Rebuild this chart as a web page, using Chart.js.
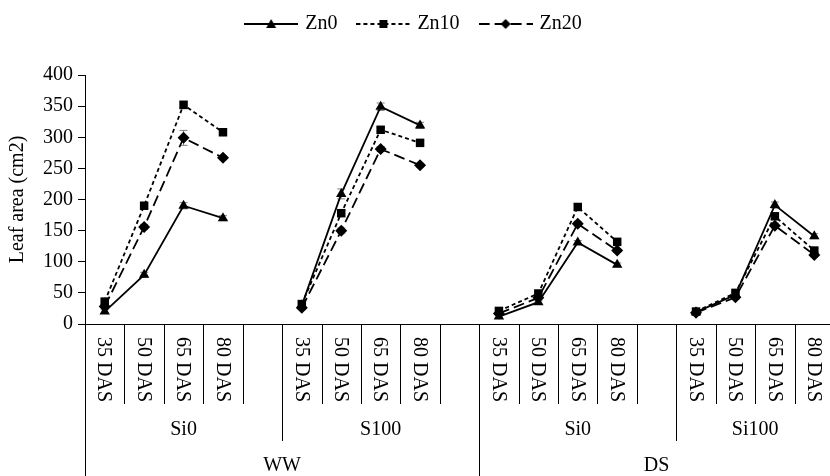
<!DOCTYPE html>
<html>
<head>
<meta charset="utf-8">
<script src="https://cdn.jsdelivr.net/npm/chart.js@4/dist/chart.umd.min.js"></script>
<style>
  html, body { margin: 0; padding: 0; background: #fff; overflow: hidden; }
  #wrap { width: 840px; height: 476px; }
</style>
</head>
<body>
<div id="wrap"><canvas id="chart"></canvas></div>
<script>
// categories (blank entries are the gaps between groups)
const cats = ['35 DAS', '50 DAS', '65 DAS', '80 DAS', '',
              '35 DAS', '50 DAS', '65 DAS', '80 DAS', '',
              '35 DAS', '50 DAS', '65 DAS', '80 DAS', '',
              '35 DAS', '50 DAS', '65 DAS', '80 DAS'];
const subGroups = ['Si0', 'S100', 'Si0', 'Si100'];
const subStart = [0, 5, 10, 15];
const mainGroups = ['WW', 'DS'];
const mainStart = [0, 10];

// leaf area values (cm2)
const zn0  = [20, 79, 190, 170, null, 30, 209, 349, 319, null, 12, 35, 131, 95, null, 19, 47, 191, 141];
const zn10 = [36, 190, 352, 308, null, 32, 178, 312, 291, null, 21, 49, 188, 132, null, 20, 50, 173, 118];
const zn20 = [28, 156, 299, 267, null, 26, 150, 281, 255, null, 17, 42, 161, 118, null, 18, 43, 158, 111];

// error bars
const err0  = [3, 4, 5, 4, null, 4, 8, 6, 5, null, 2, 2, 3, 3, null, 2, 3, 5, 4];
const err10 = [3, 4, 6, 3, null, 3, 4, 4, 3, null, 2, 3, 4, 3, null, 2, 3, 5, 3];
const err20 = [3, 4, 12, 3, null, 3, 4, 4, 3, null, 2, 3, 4, 3, null, 2, 3, 4, 3];

const yTicks = [0, 50, 100, 150, 200, 250, 300, 350, 400];

const serif = '"Liberation Serif", "Times New Roman", serif';
Chart.defaults.font.family = serif;
Chart.defaults.font.size = 20;
Chart.defaults.color = '#000';

// legend swatch: line sample with marker in the middle
function swatch(dash, marker) {
  const c = document.createElement('canvas');
  c.width = 54; c.height = 14;
  const g = c.getContext('2d');
  g.strokeStyle = '#000';
  g.lineWidth = 2;
  g.setLineDash(dash);
  g.beginPath(); g.moveTo(0, 7); g.lineTo(54, 7); g.stroke();
  g.fillStyle = '#000';
  g.beginPath();
  if (marker === 'triangle') {
    g.moveTo(27, 2); g.lineTo(32, 11); g.lineTo(22, 11);
  } else if (marker === 'rect') {
    g.rect(23, 3, 8, 8);
  } else {
    g.moveTo(27, 2); g.lineTo(32, 7); g.lineTo(27, 12); g.lineTo(22, 7);
  }
  g.fill();
  return c;
}

const series = [
  {label: 'Zn0', data: zn0, err: err0, dash: [], style: 'triangle'},
  {label: 'Zn10', data: zn10, err: err10, dash: [4, 3], style: 'rect'},
  {label: 'Zn20', data: zn20, err: err20, dash: [11, 5], style: 'rectRot'}
];

const errorBars = {
  id: 'errorBars',
  beforeDatasetsDraw(chart) {
    const {ctx, scales: {x, y}} = chart;
    ctx.save();
    ctx.strokeStyle = '#808080';
    ctx.lineWidth = 1;
    series.forEach((s, i) => {
      s.data.forEach((v, j) => {
        const e = s.err[j];
        if (v === null || !e) return;
        const px = x.getPixelForValue(j);
        const top = y.getPixelForValue(v + e), bot = y.getPixelForValue(v - e);
        ctx.beginPath();
        ctx.moveTo(px, top); ctx.lineTo(px, bot);
        ctx.moveTo(px - 4, top); ctx.lineTo(px + 4, top);
        ctx.moveTo(px - 4, bot); ctx.lineTo(px + 4, bot);
        ctx.stroke();
      });
    });
    ctx.restore();
  }
};

// extra room between legend and plot
const legendGap = {
  id: 'legendGap',
  afterInit(chart) {
    const fit = chart.legend.fit;
    chart.legend.fit = function () { fit.call(this); this.height += 31; };
  }
};

// multi level category axis below the plot
const tiers = {
  id: 'tiers',
  afterDraw(chart) {
    const {ctx, scales: {x}} = chart;
    const base = chart.chartArea.bottom;
    const w = (x.right - x.left) / cats.length;
    ctx.save();
    ctx.strokeStyle = '#000';
    ctx.lineWidth = 1;
    for (let k = 0; k <= cats.length; k++) {
      const xx = Math.round(x.left + k * w) + 0.5;
      let len = 80;
      if (mainStart.includes(k)) len = chart.height - base;
      else if (subStart.includes(k)) len = 117;
      ctx.beginPath(); ctx.moveTo(xx, base); ctx.lineTo(xx, base + len); ctx.stroke();
    }
    ctx.fillStyle = '#000';
    ctx.font = '20px ' + serif;
    ctx.textBaseline = 'middle';
    cats.forEach((c, k) => {
      if (!c) return;
      ctx.save();
      ctx.translate(x.getPixelForValue(k) - 1, base + 13);
      ctx.rotate(Math.PI / 2);
      ctx.textAlign = 'left';
      ctx.fillText(c, 0, 0);
      ctx.restore();
    });
    ctx.textAlign = 'center';
    subGroups.forEach((g, i) => {
      const a = subStart[i], b = i + 1 < subStart.length ? subStart[i + 1] : cats.length;
      ctx.fillText(g, x.left + (a + b) / 2 * w, base + 106);
    });
    mainGroups.forEach((g, i) => {
      const a = mainStart[i], b = i + 1 < mainStart.length ? mainStart[i + 1] : cats.length;
      ctx.fillText(g, x.left + (a + b) / 2 * w, base + 142);
    });
    ctx.restore();
  }
};

const ctx = document.getElementById('chart').getContext('2d');
const chart = new Chart(ctx, {
  type: 'line',
  data: {
    labels: cats,
    datasets: series.map(s => ({
      label: s.label,
      data: s.data,
      borderColor: '#000',
      backgroundColor: '#000',
      borderWidth: 1.8,
      borderDash: s.dash,
      pointStyle: s.style,
      pointRadius: 6,
      pointHoverRadius: 6,
      pointBorderWidth: 0,
      fill: false,
      tension: 0
    }))
  },
  options: {
    responsive: true,
    maintainAspectRatio: false,
    animation: false,
    layout: { padding: { top: 2, right: 1, bottom: 144, left: 0 } },
    plugins: {
      tooltip: { enabled: false },
      legend: {
        position: 'top',
        labels: {
          usePointStyle: true,
          pointStyleWidth: 48,
          padding: 12,
          font: { size: 20 },
          generateLabels: (c) => series.map((s, i) => ({
            text: s.label + '  ',
            pointStyle: swatch(s.dash, s.style),
            fillStyle: '#000',
            strokeStyle: '#000',
            lineWidth: 0,
            hidden: false,
            datasetIndex: i
          }))
        }
      }
    },
    scales: {
      x: {
        offset: true,
        grid: { display: false },
        border: { display: true, color: '#000', width: 1 },
        ticks: { display: false }
      },
      y: {
        min: 0,
        max: 400,
        afterFit: (s) => { s.width = 85; },
        afterBuildTicks: (s) => { s.ticks = yTicks.map(v => ({value: v})); },
        title: {
          display: true,
          text: 'Leaf area (cm2)',
          font: { size: 20 },
          padding: { top: 6, bottom: 0 }
        },
        grid: { drawOnChartArea: false, drawTicks: true, tickLength: 7, color: '#000' },
        border: { display: true, color: '#000', width: 1 },
        ticks: { padding: 5, font: { size: 20 } }
      }
    }
  },
  plugins: [errorBars, legendGap, tiers]
});
</script>
</body>
</html>
